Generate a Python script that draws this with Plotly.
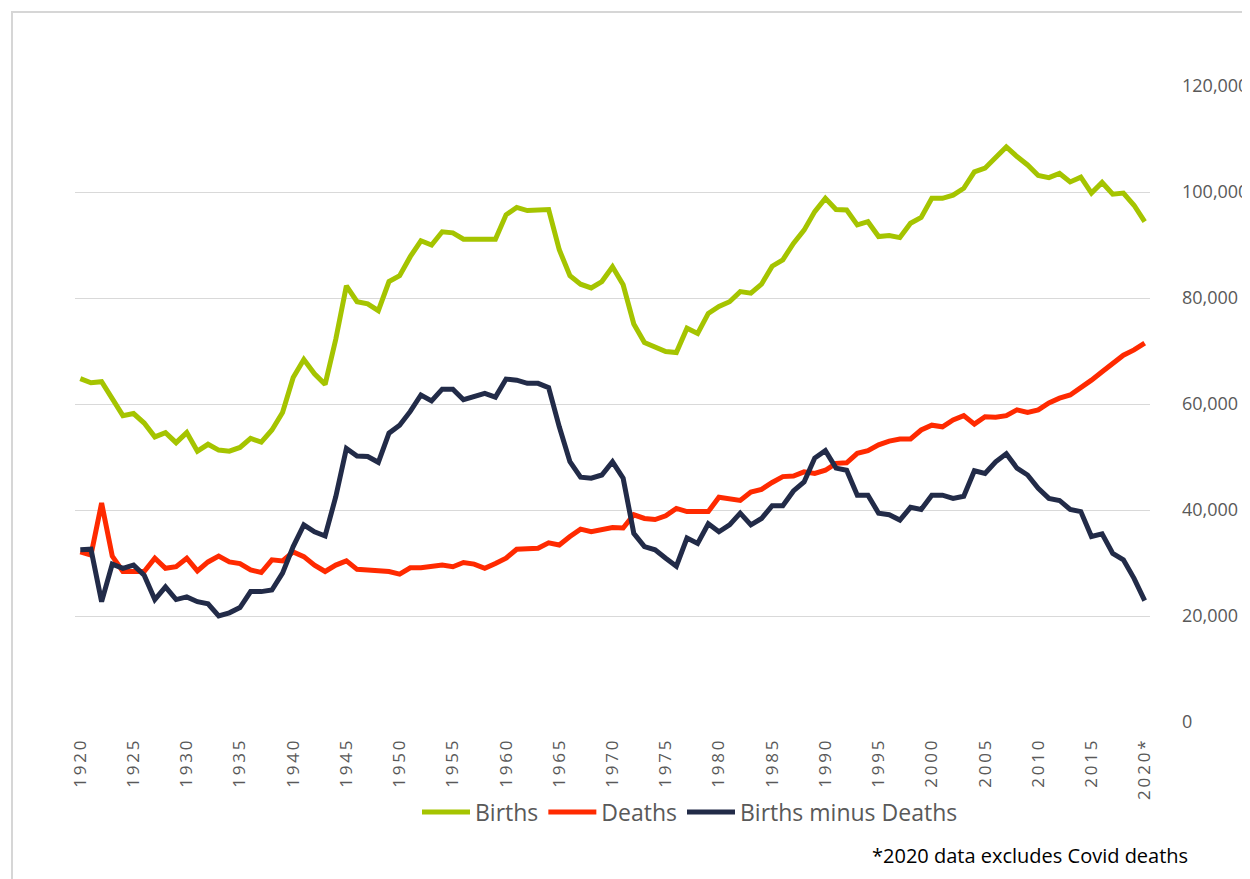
import plotly.graph_objects as go

years = list(range(1920, 2021))

births = [64800, 64000, 64200, 61100, 57800, 58200, 56400, 53800, 54600, 52700,
          54600, 51100, 52400, 51300, 51100, 51800, 53500, 52800, 55100, 58400,
          65000, 68400, 65700, 63700, 72200, 82300, 79300, 78900, 77600, 83100,
          84200, 87800, 90800, 90000, 92500, 92300, 91100, 91100, 91100, 91100,
          95700, 97100, 96500, 96600, 96700, 89100, 84200, 82600, 81900, 83100,
          85900, 82500, 75100, 71600, 70800, 69900, 69700, 74300, 73300, 77100,
          78400, 79300, 81200, 80900, 82600, 86000, 87200, 90300, 92800, 96300,
          98800, 96700, 96600, 93800, 94400, 91600, 91800, 91400, 94100, 95200,
          98800, 98800, 99400, 100700, 103800, 104500, 106500, 108500, 106700, 105100,
          103100, 102700, 103500, 101900, 102800, 99800, 101800, 99600, 99800, 97500,
          94400]

deaths = [32100, 31500, 41300, 31300, 28400, 28400, 28400, 30900, 29000, 29300,
          30900, 28500, 30200, 31300, 30200, 29900, 28700, 28200, 30600, 30400,
          32100, 31200, 29600, 28400, 29600, 30400, 28800, 28700, 28500, 28400,
          27900, 29100, 29100, 29300, 29600, 29300, 30100, 29800, 29000, 29900,
          30900, 32600, 32600, 32800, 33800, 33400, 35000, 36400, 35900, 36400,
          36700, 36600, 39100, 38400, 38200, 38900, 40300, 39700, 39700, 39700,
          42400, 42000, 41800, 43400, 43900, 45200, 46300, 46400, 47200, 46900,
          47500, 48800, 48900, 50700, 51200, 52300, 53000, 53400, 53400, 55100,
          56000, 55700, 57000, 57800, 56200, 57600, 57500, 57800, 58900, 58400,
          58900, 60200, 61100, 61700, 63000, 64500, 66100, 67800, 69200, 70200,
          71500]

births_minus_deaths = [32500, 32600, 22700, 29800, 29000, 29600, 27700, 23100, 25500, 23100,
                       23600, 22700, 22300, 20000, 20600, 21600, 24600, 24600, 24900, 28100,
                       33100, 37200, 35900, 35100, 42500, 51600, 50200, 50100, 49000, 54500,
                       56000, 58600, 61700, 60600, 62800, 62800, 60800, 61300, 62000, 61300,
                       64700, 64500, 63900, 63900, 63100, 55700, 49100, 46200, 46000, 46600,
                       49100, 46000, 35600, 33100, 32500, 30900, 29400, 34700, 33700, 37400,
                       35900, 37200, 39400, 37200, 38400, 40800, 40800, 43600, 45300, 49800,
                       51200, 47900, 47500, 42800, 42800, 39400, 39100, 38100, 40500, 40100,
                       42800, 42800, 42200, 42600, 47400, 46900, 49100, 50600, 47900, 46600,
                       44100, 42200, 41800, 40100, 39700, 35000, 35500, 31800, 30600, 27100,
                       22900]

tick_years = list(range(1920, 2021, 5))
tick_labels = ["\u2009".join(str(y)) for y in tick_years[:-1]] + ["\u2009".join("2020*")]

series_names = ["Births", "Deaths", "Births minus Deaths"]
series_colors = ["#A5C400", "#FF2A00", "#222B48"]
series_values = [births, deaths, births_minus_deaths]

fig = go.Figure()
for name, color, vals in zip(series_names, series_colors, series_values):
    fig.add_trace(go.Scatter(x=years, y=vals, mode="lines", name=name,
                             line=dict(color=color, width=5)))

# the page body adds an 8px offset; positions below are in screen pixels
OFF = 8
SL, SR, ST, SB = 75, 1150, 86, 722          # plot area on screen
L, R, T, B = SL - OFF, SR - OFF, ST - OFF, SB - OFF
W, H = SR - SL, SB - ST

def px(x):
    return (x - SL) / W

def py(y):
    return (SB - y) / H

fig.add_shape(type="rect", xref="paper", yref="paper",
              x0=px(12), x1=px(1320), y0=py(12), y1=py(960),
              line=dict(color="#d6d6d6", width=2), fillcolor="rgba(0,0,0,0)",
              layer="below")

fig.add_annotation(text="*2020 data excludes Covid deaths", xref="paper", yref="paper",
                   x=px(1190), y=py(855), xanchor="right", yanchor="middle",
                   showarrow=False, font=dict(family="Open Sans", size=20, color="#000000"))

fig.update_layout(
    width=1250, height=879,
    margin=dict(l=L, r=1250 - R, t=T, b=879 - B, pad=0, autoexpand=False),
    paper_bgcolor="white", plot_bgcolor="white",
    font=dict(family="Open Sans", color="#595959"),
    showlegend=True,
    legend=dict(orientation="h", x=px(690), xanchor="center", y=py(812), yanchor="middle",
                font=dict(size=23, color="#595959"), itemwidth=48,
                tracegroupgap=0, bgcolor="rgba(0,0,0,0)"),
    xaxis=dict(range=[1919.5, 2020.5], tickmode="array", tickvals=tick_years,
               ticktext=tick_labels, tickangle=-90, showgrid=False, zeroline=False,
               showline=False, ticks="", ticklabelstandoff=14, automargin=False,
               tickfont=dict(size=17, color="#595959")),
    yaxis=dict(range=[0, 120000], side="right", tickvals=[0, 20000, 40000, 60000, 80000, 100000, 120000],
               tickformat=",", showgrid=True, gridcolor="#d9d9d9", gridwidth=1,
               zeroline=False, showline=False, ticks="", ticklabelstandoff=31, automargin=False,
               tickfont=dict(size=18, color="#595959")),
)

fig.write_html("out.html")
